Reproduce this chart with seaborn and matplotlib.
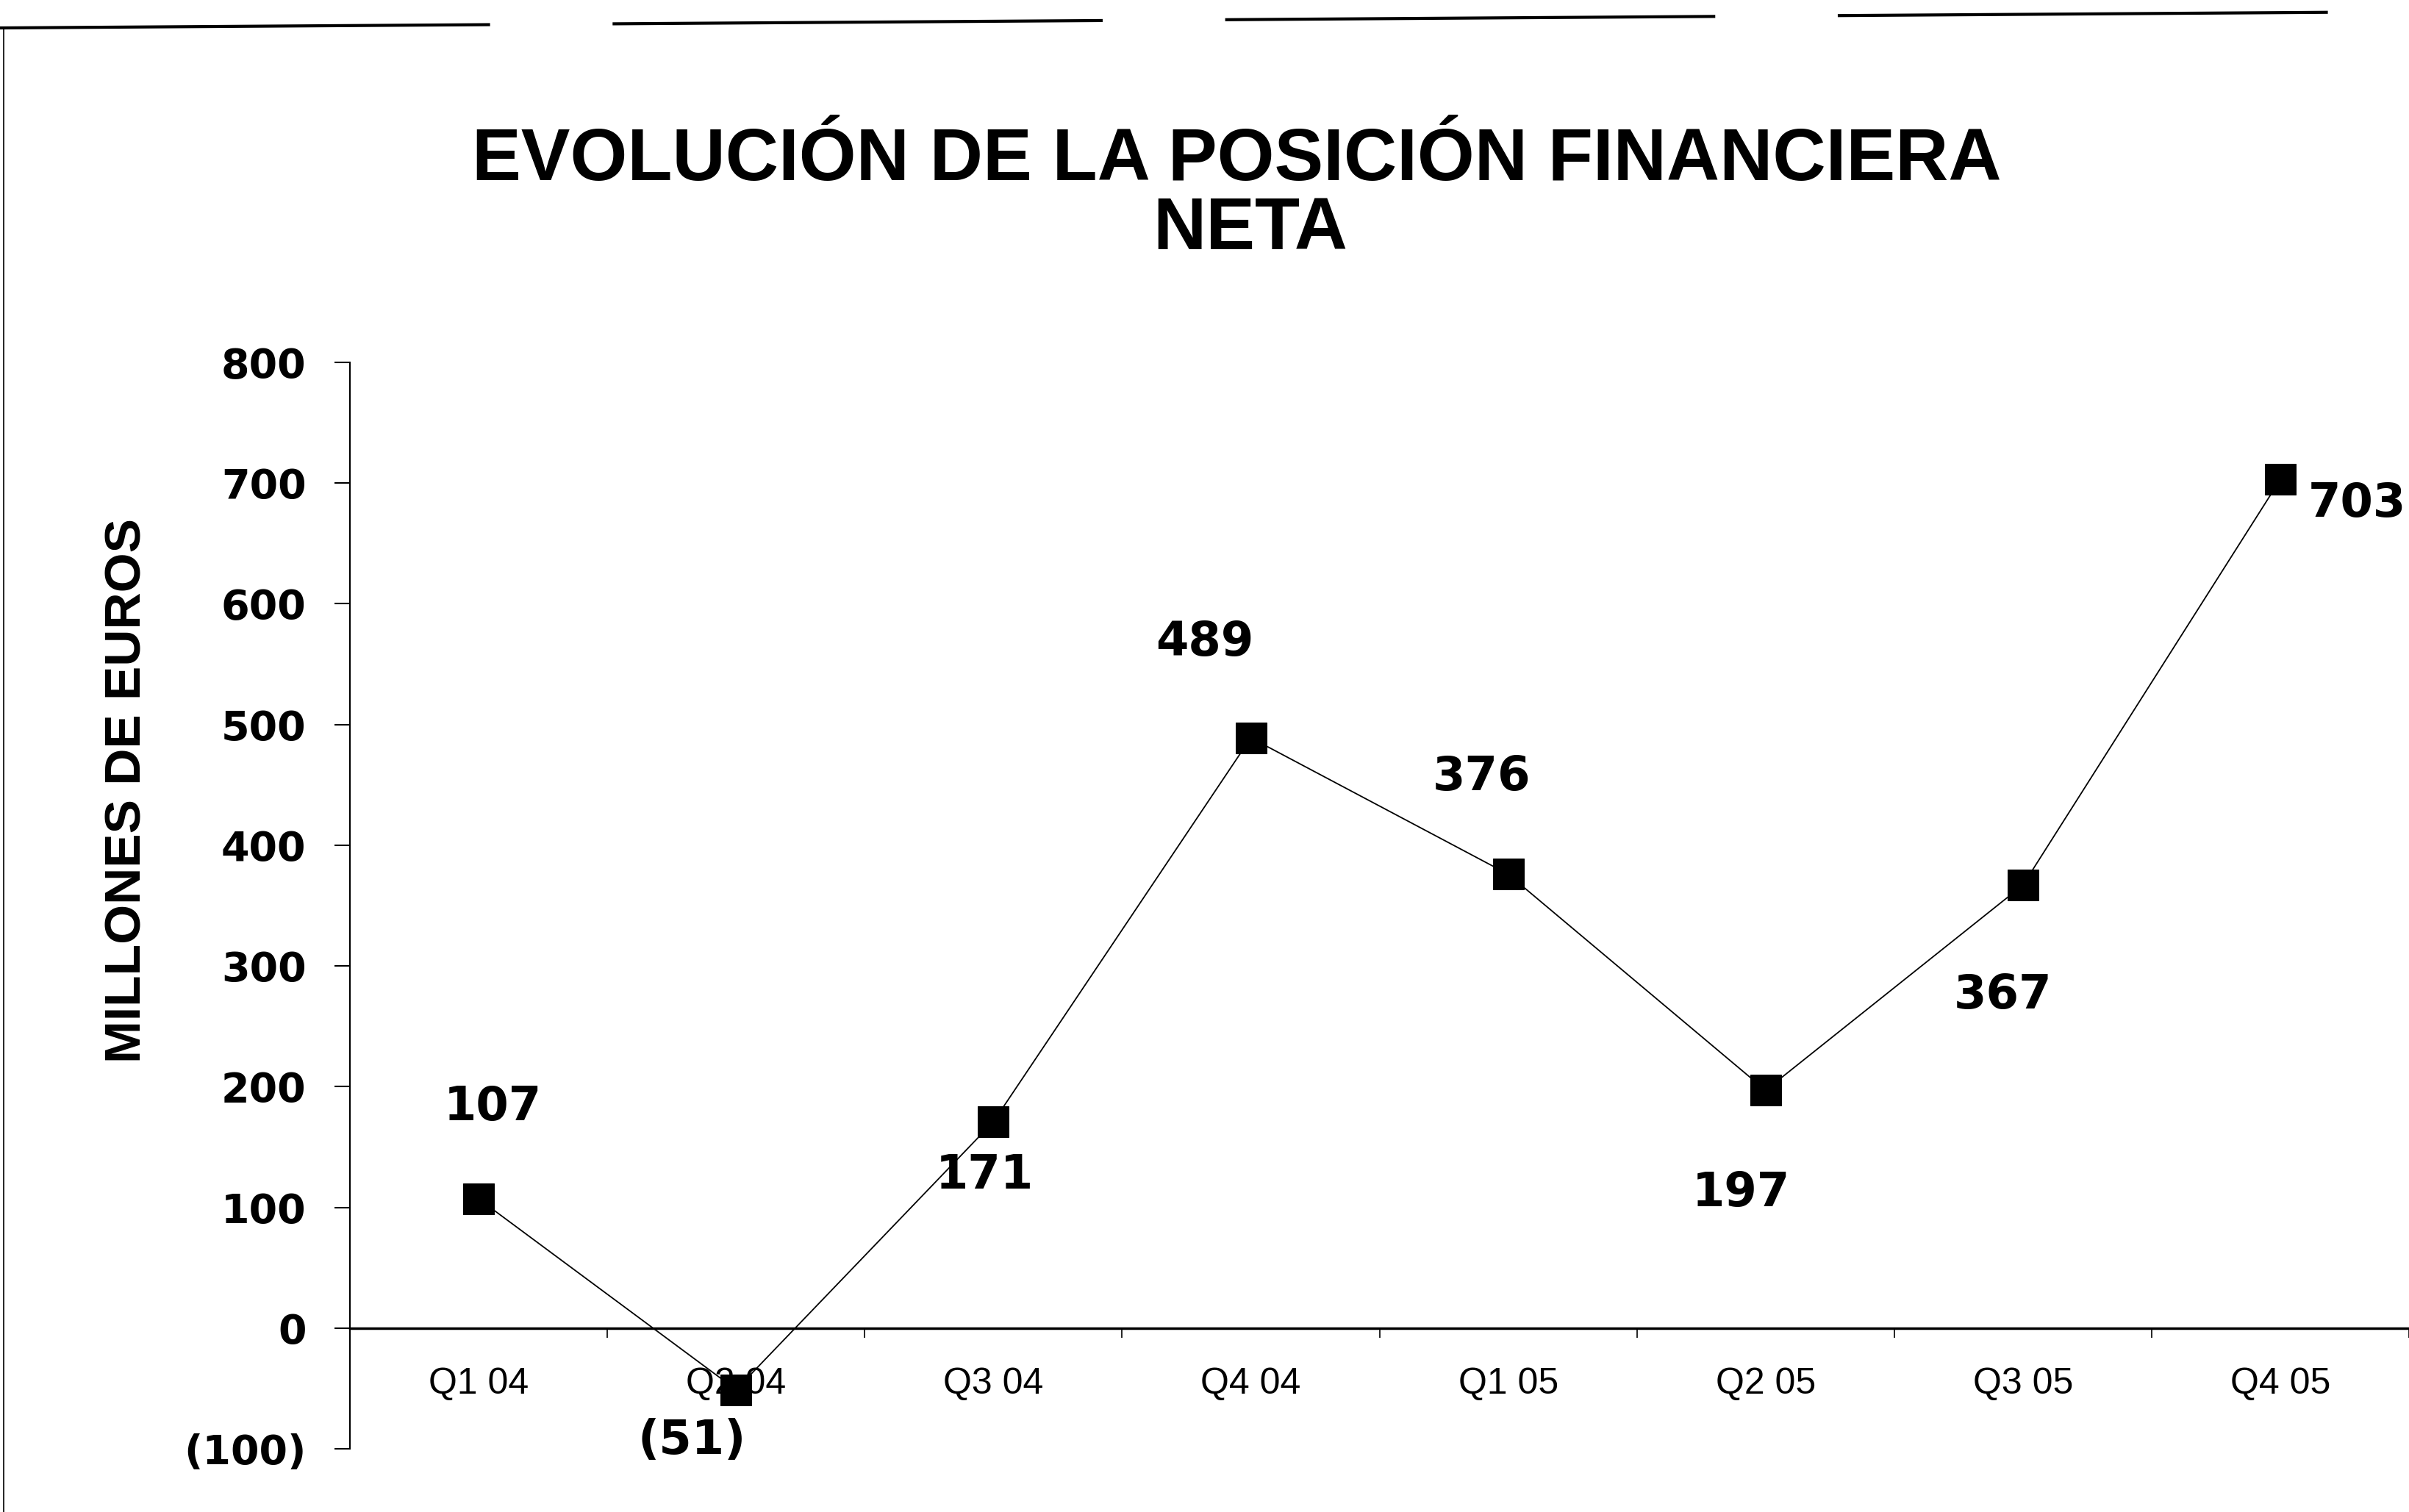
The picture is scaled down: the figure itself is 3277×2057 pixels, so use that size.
import numpy as np
import seaborn as sns
import matplotlib.pyplot as plt
from matplotlib.lines import Line2D

quarters = ["Q1 04", "Q2 04", "Q3 04", "Q4 04", "Q1 05", "Q2 05", "Q3 05", "Q4 05"]
posicion_neta = [107, -51, 171, 489, 376, 197, 367, 703]
y_ticks = [-100, 0, 100, 200, 300, 400, 500, 600, 700, 800]
y_tick_labels = ["(100)", "0", "100", "200", "300", "400", "500", "600", "700", "800"]
# label offsets from each marker, in pixels (dx, dy)
label_offsets = [(19, 125), (-60, -69), (-12, -73), (-63, 130),
                 (-36, 132), (-33, -140), (-27, -150), (38, -33)]

sns.set_theme(style="white", rc={"text.color": "black", "xtick.color": "black",
                                 "ytick.color": "black", "axes.labelcolor": "black"})
plt.rcParams["font.family"] = ["Liberation Sans", "DejaVu Sans"]

fig = plt.figure(figsize=(32.77, 20.57), dpi=100)
ax = fig.add_axes([0.1453, 0.0418, 0.8547, 0.7185])

sns.lineplot(x=quarters, y=posicion_neta, ax=ax, color="black", linewidth=1.3,
             marker="s", markersize=30, markeredgecolor="black", markerfacecolor="black",
             sort=False)

ax.set_xlim(-0.5, 7.5)
ax.set_ylim(-100, 800)

for sp in ["top", "right"]:
    ax.spines[sp].set_visible(False)
ax.spines["bottom"].set_position(("data", 0))
ax.spines["bottom"].set_color("black")
ax.spines["bottom"].set_linewidth(2.5)
ax.spines["left"].set_color("black")
ax.spines["left"].set_linewidth(1.5)

ax.set_yticks(y_ticks)
ax.set_yticklabels(y_tick_labels, fontfamily="DejaVu Sans", fontweight="bold", fontsize=40)
ax.tick_params(axis="y", direction="out", length=15, width=1.5, color="black", pad=28, left=True)

ax.set_xticks(range(len(quarters)))
ax.set_xticklabels(quarters, fontsize=36)
ax.set_xticks(np.arange(-0.5, len(quarters), 1), minor=True)
ax.tick_params(axis="x", which="major", length=0, pad=38)
ax.tick_params(axis="x", which="minor", direction="out", length=9, width=1.2,
               color="black", bottom=True)
ax.set_xlabel("")
ax.set_ylabel("")

for i, (val, off) in enumerate(zip(posicion_neta, label_offsets)):
    txt = f"({abs(val)})" if val < 0 else str(val)
    ax.annotate(txt, xy=(i, val), xytext=off, textcoords="offset pixels",
                ha="left" if i == 7 else "center", va="center",
                fontfamily="DejaVu Sans", fontweight="bold", fontsize=46,
                color="black", annotation_clip=False)

fig.text(0.5135, 0.8935, "EVOLUCIÓN DE LA POSICIÓN FINANCIERA", ha="center", va="center",
         fontsize=72, fontweight="bold", color="black")
fig.text(0.519, 0.8480, "NETA", ha="center", va="center", fontsize=72, fontweight="bold",
         color="black")
fig.text(0.0528, 0.477, "MILLONES DE EUROS", ha="center", va="center", rotation=90,
         fontsize=50, fontweight="bold", color="black")

# scanned page border
fig.add_artist(Line2D([0.0, 1.0], [1 - 38 / 2057, 1 - 16 / 2057], transform=fig.transFigure,
                      color="black", linewidth=3, dashes=(160, 40)))
fig.add_artist(Line2D([5 / 3277, 5 / 3277], [1 - 38 / 2057, 0.0], transform=fig.transFigure,
                      color="black", linewidth=1.2))

fig.savefig("out.png", dpi=100)
plt.close(fig)
